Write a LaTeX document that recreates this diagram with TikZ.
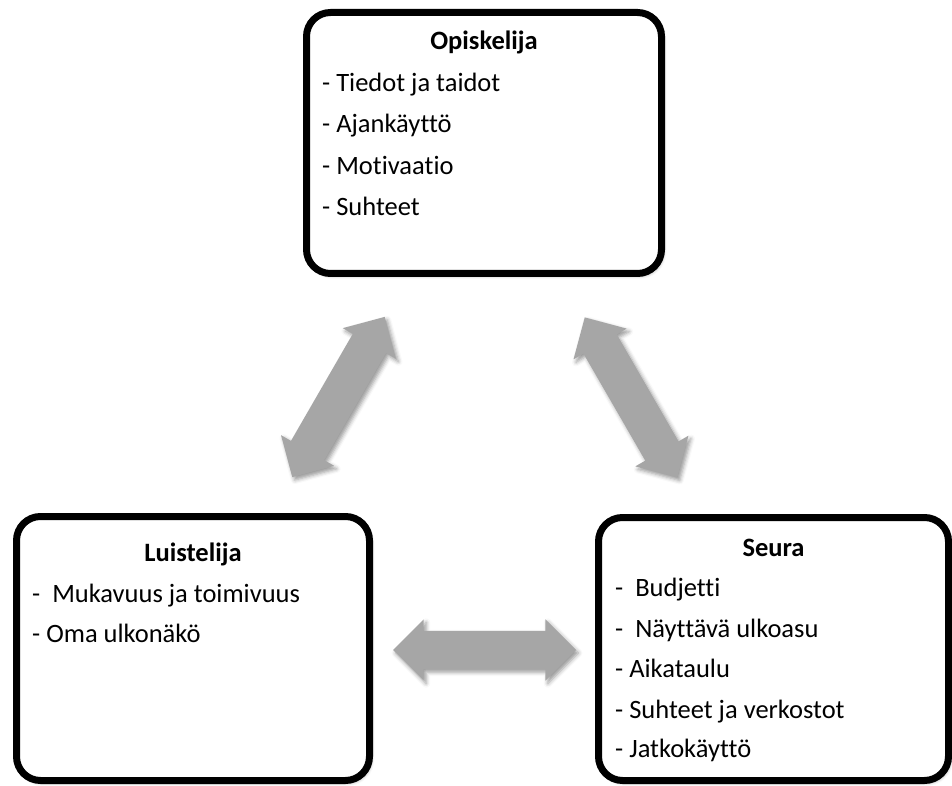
\documentclass[tikz,border=0pt]{standalone}
\usepackage{fontspec}
\setmainfont{Carlito}[Ligatures=NoCommon]
\usetikzlibrary{shapes.arrows,shadows.blur}
\definecolor{arrowgray}{HTML}{A6A6A6}
\tikzset{
  box/.style={draw=black, line width=7pt, rounded corners=24pt, fill=white, inner sep=0pt,
    blur shadow={shadow xshift=2pt, shadow yshift=-2.5pt, shadow blur radius=3pt, shadow opacity=35}},
  boxtext/.style={anchor=base west, inner sep=0pt, font=\fontsize{26.5}{32}\selectfont},
  boxhead/.style={anchor=base, inner sep=0pt, font=\fontsize{26.5}{32}\selectfont\bfseries},
  bigarrow/.style={double arrow, fill=arrowgray, draw=none, inner xsep=0pt, inner ysep=19pt,
    minimum width=61pt, double arrow head extend=11.5pt, double arrow tip angle=90,
    blur shadow={shadow xshift=2.5pt, shadow yshift=-3pt, shadow blur radius=4pt, shadow opacity=40}}
}
\begin{document}
\begin{tikzpicture}[x=1pt,y=1pt]
\useasboundingbox (0,0) rectangle (952,785);
% boxes
\node[box, minimum width=355pt, minimum height=261pt] (opis) at (484,642) {};
\node[box, minimum width=353pt, minimum height=264pt] (luis) at (193,136.5) {};
\node[box, minimum width=350pt, minimum height=263pt] (seura) at (773.5,136) {};
% arrows
\node[bigarrow, minimum height=185pt, rotate=60] (a1) at (338.5,388) {};
\node[bigarrow, minimum height=185pt, rotate=-60] (a2) at (631,387.5) {};
\node[bigarrow, minimum height=183pt] (a3) at (484.5,135) {};
% top box text
\node[boxhead] (oh) at (484,735) {Opiskelija};
\node[boxtext] (o1) at (322,693) {- Tiedot ja taidot};
\node[boxtext] (o2) at (322,652) {- Ajankäyttö};
\node[boxtext] (o3) at (322,610) {- Motivaatio};
\node[boxtext] (o4) at (322,569) {- Suhteet};
% left box text
\node[boxhead] (lh) at (193,224) {Luistelija};
\node[boxtext] (l1) at (32,183) {-\ \ Mukavuus ja toimivuus};
\node[boxtext] (l2) at (32,143) {- Oma ulkonäkö};
% right box text
\node[boxhead] (sh) at (773.5,229) {Seura};
\node[boxtext] (s1) at (615,189) {-\ \ Budjetti};
\node[boxtext] (s2) at (615,148) {-\ \ Näyttävä ulkoasu};
\node[boxtext] (s3) at (615,108) {- Aikataulu};
\node[boxtext] (s4) at (615,67) {- Suhteet ja verkostot};
\node[boxtext] (s5) at (615,28) {- Jatkokäyttö};
\end{tikzpicture}
\end{document}
